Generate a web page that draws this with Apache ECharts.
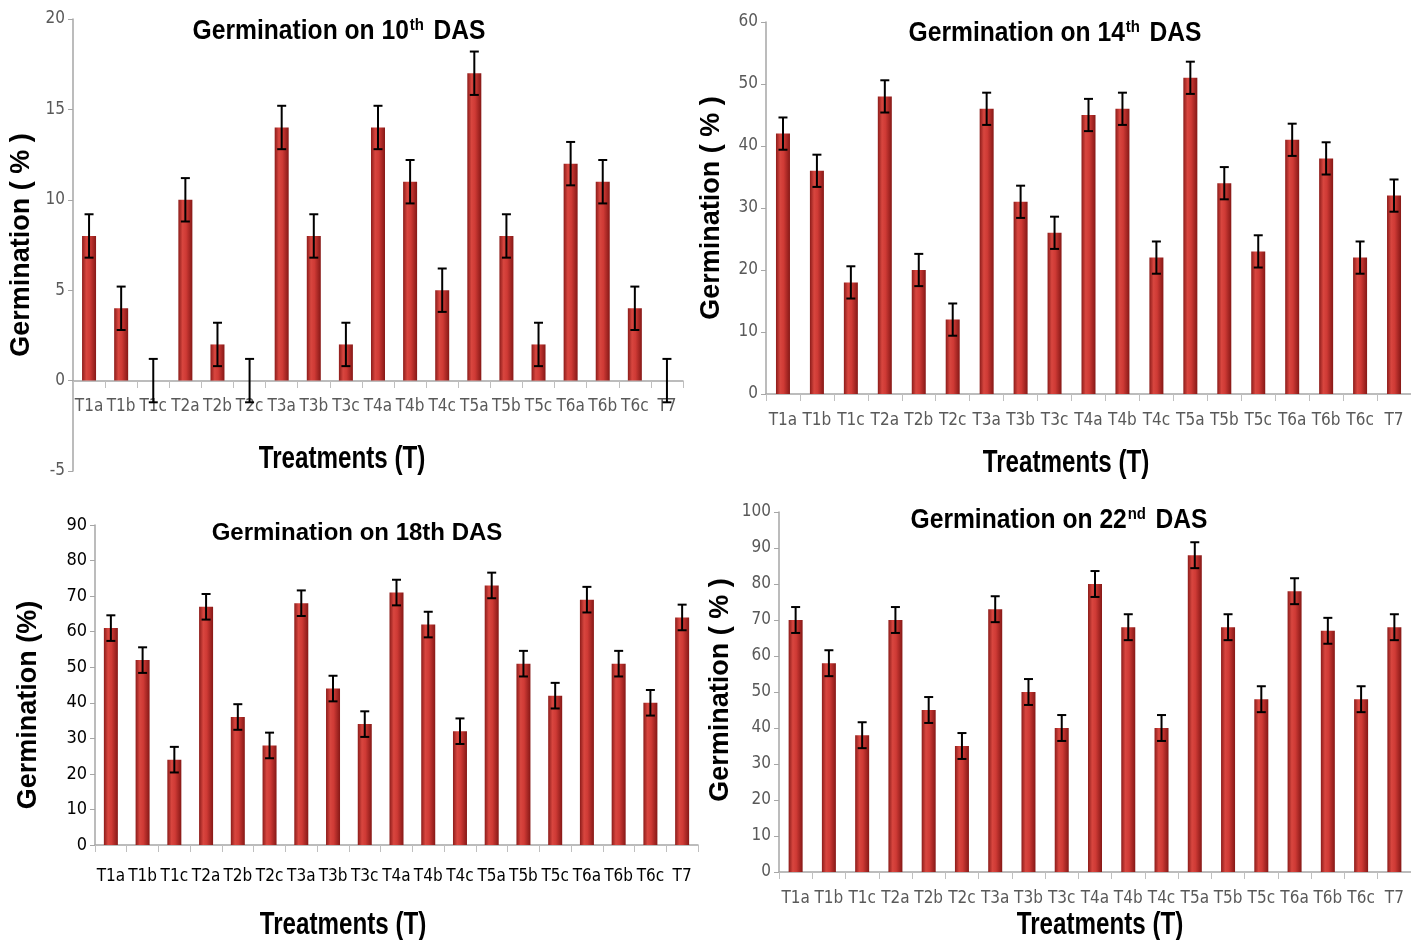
<!DOCTYPE html>
<html>
<head>
<meta charset="utf-8">
<script src="https://cdn.jsdelivr.net/npm/echarts@6/dist/echarts.min.js"></script>
<style>
  html, body { margin: 0; padding: 0; background: #fff; }
  #chart { width: 1411px; height: 940px; }
</style>
</head>
<body>
<div id="chart"></div>
<script>
var categories = ['T1a', 'T1b', 'T1c', 'T2a', 'T2b', 'T2c', 'T3a', 'T3b', 'T3c', 'T4a',
    'T4b', 'T4c', 'T5a', 'T5b', 'T5c', 'T6a', 'T6b', 'T6c', 'T7'];

// germination (%) per treatment
var das10 = [8, 4, 0, 10, 2, 0, 14, 8, 2, 14, 11, 5, 17, 8, 2, 12, 11, 4, 0];
var das14 = [42, 36, 18, 48, 20, 12, 46, 31, 26, 45, 46, 22, 51, 34, 23, 41, 38, 22, 32];
var das18 = [61, 52, 24, 67, 36, 28, 68, 44, 34, 71, 62, 32, 73, 51, 42, 69, 51, 40, 64];
var das22 = [70, 58, 38, 70, 45, 35, 73, 50, 40, 80, 68, 40, 88, 68, 48, 78, 67, 48, 68];

// error bar half-lengths
var err10 = [1.2, 1.2, 1.2, 1.2, 1.2, 1.2, 1.2, 1.2, 1.2, 1.2, 1.2, 1.2, 1.2, 1.2, 1.2, 1.2, 1.2, 1.2, 1.2];
var err14 = [2.6, 2.6, 2.6, 2.6, 2.6, 2.6, 2.6, 2.6, 2.6, 2.6, 2.6, 2.6, 2.6, 2.6, 2.6, 2.6, 2.6, 2.6, 2.6];
var err18 = [3.6, 3.6, 3.6, 3.6, 3.6, 3.6, 3.6, 3.6, 3.6, 3.6, 3.6, 3.6, 3.6, 3.6, 3.6, 3.6, 3.6, 3.6, 3.6];
var err22 = [3.6, 3.6, 3.6, 3.6, 3.6, 3.6, 3.6, 3.6, 3.6, 3.6, 3.6, 3.6, 3.6, 3.6, 3.6, 3.6, 3.6, 3.6, 3.6];

var yRanges = [[-5, 20, 5], [0, 60, 10], [0, 90, 10], [0, 100, 10]];

var NARROW = "'Liberation Sans Narrow', 'DejaVu Sans Condensed', sans-serif";
var ARIAL = "'Liberation Sans', Arial, sans-serif";

var chart = echarts.init(document.getElementById('chart'));

var barColor = new echarts.graphic.LinearGradient(0, 0, 1, 0, [
    {offset: 0, color: '#8c1c1a'},
    {offset: 0.3, color: '#d8463f'},
    {offset: 0.55, color: '#cf3a35'},
    {offset: 1, color: '#861816'}
]);

var grids = [
    {left: 73, top: 19, width: 610, height: 452},
    {left: 766, top: 22, width: 645, height: 372},
    {left: 95, top: 525, width: 603, height: 320},
    {left: 779, top: 512, width: 632, height: 360},
    // label strip for the first panel: its categories sit under the zero line
    {left: 73, top: 19, width: 610, height: 362}
];

var labelColors = ['#595959', '#595959', '#000', '#595959', '#595959'];
var labelMargins = [17, 18, 23, 18, 17];

function errData(vals, errs) {
    return vals.map(function (v, i) {
        return [i, v - errs[i], v + errs[i]];
    });
}

function renderErr(params, api) {
    var lo = api.coord([api.value(0), api.value(1)]);
    var hi = api.coord([api.value(0), api.value(2)]);
    var w = 4.5;
    var st = {stroke: '#000', lineWidth: 2};
    return {
        type: 'group',
        children: [
            {type: 'line', shape: {x1: lo[0], y1: lo[1], x2: hi[0], y2: hi[1]}, style: st},
            {type: 'line', shape: {x1: lo[0] - w, y1: lo[1], x2: lo[0] + w, y2: lo[1]}, style: st},
            {type: 'line', shape: {x1: hi[0] - w, y1: hi[1], x2: hi[0] + w, y2: hi[1]}, style: st}
        ]
    };
}

var values = [das10, das14, das18, das22];
var errors = [err10, err14, err18, err22];

var xAxes = [], yAxes = [], series = [];
grids.forEach(function (g, k) {
    xAxes.push({
        type: 'category', gridIndex: k, data: categories,
        show: k !== 0,
        axisLine: {onZero: false, lineStyle: {color: '#a6a6a6', width: 1.5}},
        axisTick: {show: true, interval: 0, length: 7, lineStyle: {color: '#bfbfbf'}},
        axisLabel: {
            interval: 0, color: labelColors[k], fontFamily: NARROW,
            fontSize: 17, margin: labelMargins[k]
        }
    });
    if (k === 4) {
        yAxes.push({type: 'value', gridIndex: k, min: 0, max: 20, show: false});
        return;
    }
    yAxes.push({
        type: 'value', gridIndex: k,
        min: yRanges[k][0], max: yRanges[k][1], interval: yRanges[k][2],
        splitLine: {show: false},
        axisLine: {show: true, lineStyle: {color: '#a6a6a6', width: 1.5}},
        axisTick: {show: true, length: 5, lineStyle: {color: '#a6a6a6'}},
        axisLabel: {color: labelColors[k], fontFamily: NARROW, fontSize: k === 2 ? 18 : 17, margin: 8}
    });
    series.push({
        type: 'bar', xAxisIndex: k, yAxisIndex: k, data: values[k],
        barWidth: 14,
        itemStyle: {color: barColor}
    });
    series.push({
        type: 'custom', xAxisIndex: k, yAxisIndex: k,
        data: errData(values[k], errors[k]),
        renderItem: renderErr, z: 5
    });
});

var supRich = {
    a: {font: "bold 28px " + ARIAL, fill: '#000'},
    s: {font: "bold 17px " + ARIAL, fill: '#000', verticalAlign: 'top', padding: [0, 3, 12, 1]}
};

function titleText(x, y, text) {
    return {
        type: 'text', x: x, y: y, scaleX: 0.88,
        style: {text: text, rich: supRich, align: 'center', verticalAlign: 'middle'}
    };
}

function yTitle(x, y, text) {
    return {
        type: 'text', x: x, y: y, rotation: Math.PI / 2,
        style: {text: text, font: "bold 27px " + ARIAL, fill: '#000', align: 'center', verticalAlign: 'middle'}
    };
}

function xTitle(x, y) {
    return {
        type: 'text', x: x, y: y, scaleX: 0.78,
        style: {text: 'Treatments (T)', font: "bold 31px " + ARIAL, fill: '#000', align: 'center', verticalAlign: 'middle'}
    };
}

var graphics = [
    titleText(339, 31, '{a|Germination on 10}{s|th}{a| DAS}'),
    titleText(1055, 33, '{a|Germination on 14}{s|th}{a| DAS}'),
    {
        type: 'text', x: 357, y: 533,
        style: {text: 'Germination on 18th DAS', font: "bold 24px " + ARIAL, fill: '#000', align: 'center', verticalAlign: 'middle'}
    },
    titleText(1059, 520, '{a|Germination on 22}{s|nd}{a| DAS}'),
    yTitle(22, 245, 'Germination ( % )'),
    yTitle(712, 208, 'Germination ( % )'),
    yTitle(29, 705, 'Germination (%)'),
    yTitle(721, 690, 'Germination ( % )'),
    xTitle(342, 459),
    xTitle(1066, 463),
    xTitle(343, 925),
    xTitle(1100, 925)
];

chart.setOption({
    animation: false,
    backgroundColor: '#fff',
    grid: grids,
    xAxis: xAxes,
    yAxis: yAxes,
    series: series,
    graphic: graphics
});
</script>
</body>
</html>
